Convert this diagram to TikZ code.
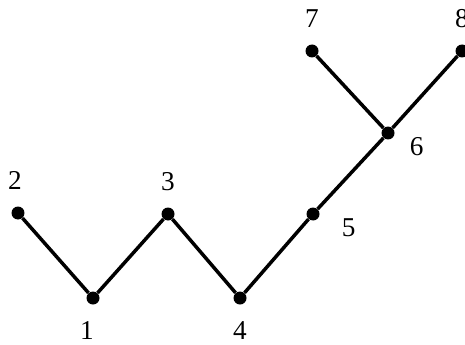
\documentclass[tikz,border=0pt]{standalone}
\usepackage{fontspec}
\setmainfont{Liberation Serif}
\usetikzlibrary{positioning}

\begin{document}
\begin{tikzpicture}[x=0.02cm, y=-0.02cm,
	vertex/.style={circle, fill, inner sep=0pt, minimum size=0.26cm},
	num/.style={inner sep=0pt, font=\fontsize{15.5}{18}\selectfont},
	edge/.style={line width=0.07cm},
	every label/.style={num},
	label distance=0.32cm
	]
	\useasboundingbox (0,0) rectangle (465,344);
	\node[vertex, label={[xshift=-0.12cm]below:1}] (v1) at (93,298) {};
	\node[vertex, label={[xshift=-0.06cm]above:2}] (v2) at (18,213) {};
	\node[vertex, label=above:3] (v3) at (168,214) {};
	\node[vertex, label=below:4] (v4) at (240,298) {};
	\node[vertex, label={[label distance=0.44cm]-8:5}] (v5) at (313,214) {};
	\node[vertex, label={[label distance=0.3cm]-10:6}] (v6) at (388,133) {};
	\node[vertex, label=above:7] (v7) at (312,51) {};
	\node[vertex, label=above:8] (v8) at (462,51) {};
	\draw[edge] (v2) -- (v1) -- (v3) -- (v4) -- (v5) -- (v6) -- (v7);
	\draw[edge] (v6) -- (v8);
\end{tikzpicture}
\end{document}
